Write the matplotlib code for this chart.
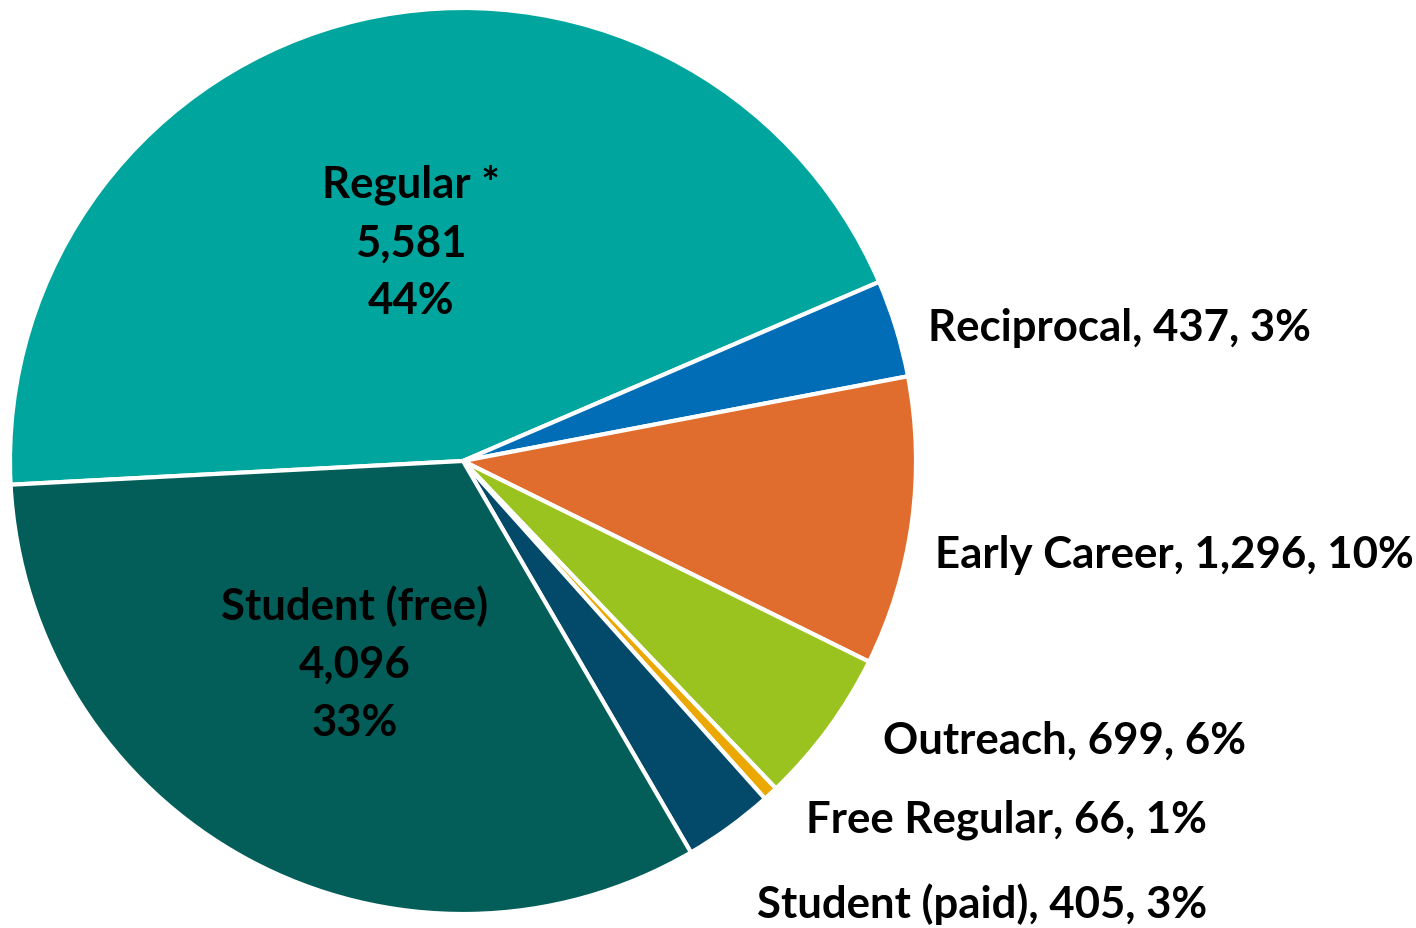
import matplotlib.pyplot as plt

# membership categories (clockwise from Regular)
categories = ["Regular *", "Reciprocal", "Early Career", "Outreach",
              "Free Regular", "Student (paid)", "Student (free)"]
counts = [5581, 437, 1296, 699, 66, 405, 4096]
percents = [44, 3, 10, 6, 1, 3, 33]
colors = ["#00A69E", "#006DB6", "#E06D2D", "#9BC31F",
          "#EBA800", "#02496A", "#035E59"]

W, H = 1416, 929
fig = plt.figure(figsize=(W / 100, H / 100), dpi=100)
ax = fig.add_axes([0, 0, 1, 1])

ax.pie(counts, colors=colors, startangle=183, counterclock=False,
       center=(463, H - 462), radius=453, frame=True,
       wedgeprops=dict(edgecolor="white", linewidth=3))
ax.set_xlim(0, W)
ax.set_ylim(0, H)
ax.set_aspect("equal")
ax.axis("off")

font = dict(family="Lato", fontweight="bold", fontsize=31.5, color="black")

# labels inside the two big slices
inside = {0: (411, 243), 6: (355, 664)}
for i, (x, y) in inside.items():
    txt = f"{categories[i]}\n{counts[i]:,}\n{percents[i]}%"
    ax.text(x, H - y, txt, ha="center", va="center", linespacing=1.54, **font)

# labels outside the small slices (left x, center y in pixels)
outside = {1: (928, 328), 2: (935, 555), 3: (883, 741), 4: (806, 820), 5: (757, 904)}
for i, (x, y) in outside.items():
    txt = f"{categories[i]}, {counts[i]:,}, {percents[i]}%"
    ax.text(x, H - y, txt, ha="left", va="center", **font)

fig.savefig("out.png", dpi=100)
